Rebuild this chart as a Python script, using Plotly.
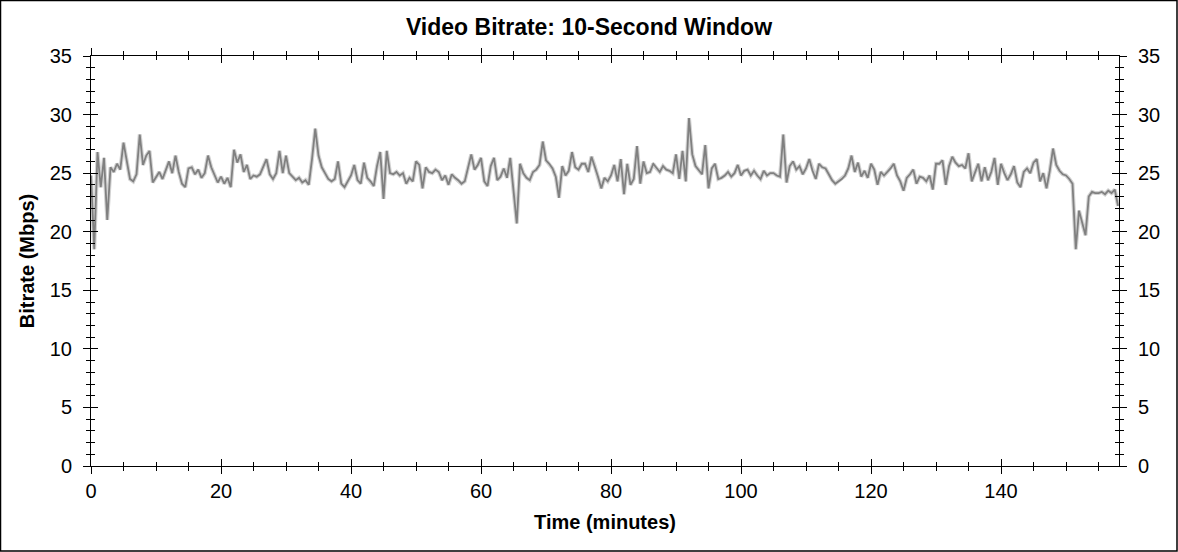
import plotly.graph_objects as go

# Video bitrate (Mbps), one reading every 0.5 minutes
bitrate_mbps = [
    24.8, 18.5, 26.8, 23.8, 26.3, 21.0, 25.5, 25.1, 25.8, 25.3, 27.6, 26.2, 24.5, 24.3, 24.9, 28.3, 25.7, 26.5, 26.9, 24.2,
    24.6, 25.1, 24.5, 25.3, 26.0, 25.0, 26.5, 25.1, 24.1, 23.8, 25.4, 25.5, 24.9, 25.3, 24.6, 25.0, 26.5, 25.5, 24.8, 24.2,
    24.7, 24.1, 24.6, 23.8, 27.0, 25.9, 26.6, 25.1, 25.7, 24.5, 24.8, 24.7, 24.9, 25.6, 26.2, 24.9, 24.5, 25.0, 26.9, 25.0,
    26.5, 25.0, 24.7, 24.4, 24.6, 24.2, 24.4, 24.0, 26.2, 28.8, 26.5, 25.5, 25.0, 24.5, 24.3, 24.5, 26.0, 24.1, 23.8, 24.3,
    24.8, 25.7, 24.4, 24.1, 25.9, 24.6, 24.3, 23.9, 25.6, 26.8, 22.8, 26.9, 25.0, 24.9, 25.1, 24.8, 25.0, 24.1, 24.6, 24.3,
    26.0, 25.7, 23.7, 25.5, 25.1, 25.0, 25.3, 25.1, 24.4, 24.8, 24.0, 24.9, 24.6, 24.4, 24.1, 24.3, 25.4, 26.6, 25.3, 25.7,
    26.3, 24.3, 23.9, 25.6, 26.3, 24.4, 24.7, 25.4, 24.6, 26.3, 23.5, 20.7, 25.8, 25.0, 24.6, 24.4, 25.1, 25.3, 25.7, 27.7,
    26.1, 25.8, 25.4, 24.7, 22.9, 25.6, 24.8, 25.2, 26.8, 25.5, 25.3, 25.8, 25.8, 25.1, 26.4, 25.6, 24.7, 23.7, 24.6, 24.3,
    24.8, 25.7, 24.3, 26.2, 23.2, 25.8, 24.0, 24.5, 27.3, 24.1, 26.0, 25.0, 25.1, 25.8, 25.4, 25.1, 25.6, 25.3, 25.2, 25.0,
    26.6, 24.5, 26.9, 24.3, 29.7, 26.6, 25.6, 25.2, 24.9, 27.4, 23.7, 25.4, 25.8, 24.5, 24.6, 24.8, 25.1, 24.7, 25.0, 25.7,
    24.8, 25.2, 25.3, 24.8, 25.2, 24.8, 24.5, 25.2, 24.8, 25.0, 25.0, 24.8, 24.7, 28.3, 24.2, 25.6, 26.0, 25.3, 25.6, 24.9,
    25.4, 26.2, 25.2, 24.5, 25.8, 25.5, 25.4, 24.9, 24.4, 24.1, 24.3, 24.5, 24.8, 25.4, 26.5, 25.1, 25.9, 24.7, 25.2, 24.6,
    25.8, 25.3, 24.0, 25.1, 24.8, 25.1, 25.4, 25.8, 24.8, 24.3, 23.5, 24.6, 24.9, 25.3, 24.1, 24.7, 24.6, 24.3, 24.8, 23.6,
    25.8, 25.8, 26.1, 24.0, 25.6, 26.4, 25.9, 25.6, 25.7, 25.4, 26.7, 24.3, 25.1, 25.8, 24.3, 25.5, 24.4, 25.1, 26.3, 24.0,
    25.8, 25.0, 24.4, 24.9, 25.6, 24.2, 23.8, 25.1, 25.4, 25.0, 25.9, 26.2, 24.3, 25.0, 23.7, 25.2, 27.1, 25.7, 25.2, 24.9,
    24.8, 24.5, 24.1, 18.5, 21.8, 20.7, 19.7, 23.0, 23.4, 23.3, 23.3, 23.4, 23.2, 23.5, 23.3, 23.6, 22.2,
]
sample_step_min = 0.5
time_min = [i * sample_step_min for i in range(len(bitrate_mbps))]

x_range = [0, 158.15]
y_range = [0, 35]
x_major = 20
x_minor = 5
y_major = 5
y_minor = 1

title_text = "Video Bitrate: 10-Second Window"
x_title = "Time (minutes)"
y_title = "Bitrate (Mbps)"

W, H = 1178, 552
L, R, T, B = 91, 59, 56, 86
PW, PH = W - L - R, H - T - B

fig = go.Figure()
fig.add_trace(go.Scatter(x=time_min, y=bitrate_mbps, mode="lines",
                         line=dict(color="#d2d2d2", width=4), hoverinfo="skip", showlegend=False))
fig.add_trace(go.Scatter(x=time_min, y=bitrate_mbps, mode="lines",
                         line=dict(color="#808080", width=1.8), showlegend=False))
fig.add_trace(go.Scatter(x=[None], y=[None], xaxis="x2", yaxis="y2", showlegend=False))
fig.add_trace(go.Scatter(x=[None], y=[None], xaxis="x2", yaxis="y3", showlegend=False))

tickfont = dict(family="Arial", size=20, color="black")

fig.update_layout(
    width=W, height=H,
    margin=dict(l=L, r=R, t=T, b=B, autoexpand=False),
    paper_bgcolor="white", plot_bgcolor="white",
    title=dict(text=f"<b>{title_text}</b>", x=0.5, xref="container", xanchor="center",
               y=1 - 27 / H, yref="container", yanchor="middle",
               font=dict(family="Arial", size=23, color="black")),
    xaxis=dict(range=x_range, tick0=0, dtick=x_major, ticks="outside", ticklen=7, tickwidth=1,
               tickcolor="black", showline=True, linecolor="black", linewidth=1, mirror="ticks",
               showgrid=False, zeroline=False, tickfont=tickfont, ticklabelstandoff=0,
               minor=dict(ticks="outside", ticklen=4, dtick=x_minor, tick0=0, tickcolor="black", showgrid=False),
               title=dict(text=f"<b>{x_title}</b>", font=dict(family="Arial", size=20, color="black"), standoff=13),
               automargin=False),
    xaxis2=dict(range=x_range, overlaying="x", side="bottom", anchor="y", tick0=0, dtick=x_major,
                ticks="inside", ticklen=7, tickwidth=1, tickcolor="black", mirror="ticks",
                showline=False, showgrid=False, zeroline=False, showticklabels=False,
                minor=dict(ticks="inside", ticklen=4, dtick=x_minor, tick0=0, tickcolor="black", showgrid=False)),
    yaxis=dict(range=y_range, tick0=0, dtick=y_major, ticks="outside", ticklen=7, tickwidth=1,
               tickcolor="black", showline=True, linecolor="black", linewidth=1,
               showgrid=False, zeroline=False, tickfont=tickfont, ticklabelstandoff=7,
               minor=dict(ticks="outside", ticklen=4, dtick=y_minor, tick0=0, tickcolor="black", showgrid=False),
               title=dict(text=f"<b>{y_title}</b>", font=dict(family="Arial", size=20, color="black"), standoff=9),
               automargin=False),
    yaxis2=dict(range=y_range, overlaying="y", side="right", anchor="x", tick0=0, dtick=y_major,
                ticks="outside", ticklen=7, tickwidth=1, tickcolor="black", showline=True,
                linecolor="black", linewidth=1, showgrid=False, zeroline=False, tickfont=tickfont,
                ticklabelstandoff=7,
                minor=dict(ticks="outside", ticklen=4, dtick=y_minor, tick0=0, tickcolor="black", showgrid=False)),
    yaxis3=dict(range=y_range, overlaying="y", side="left", anchor="x", tick0=0, dtick=y_major,
                ticks="inside", ticklen=7, tickwidth=1, tickcolor="black", mirror="ticks",
                showline=False, showgrid=False, zeroline=False, showticklabels=False,
                minor=dict(ticks="inside", ticklen=4, dtick=y_minor, tick0=0, tickcolor="black", showgrid=False)),
)

# outer frame around the whole image
fig.add_shape(type="rect", xref="paper", yref="paper",
              x0=(0.5 - L) / PW, x1=(W - 1.0 - L) / PW,
              y0=(T + PH - (H - 1.0)) / PH, y1=(T + PH - 0.5) / PH,
              line=dict(color="black", width=1.5), fillcolor="rgba(0,0,0,0)", layer="above")

fig.write_html("out.html", config={"displayModeBar": False},
               post_script="document.body.style.margin='0';")
